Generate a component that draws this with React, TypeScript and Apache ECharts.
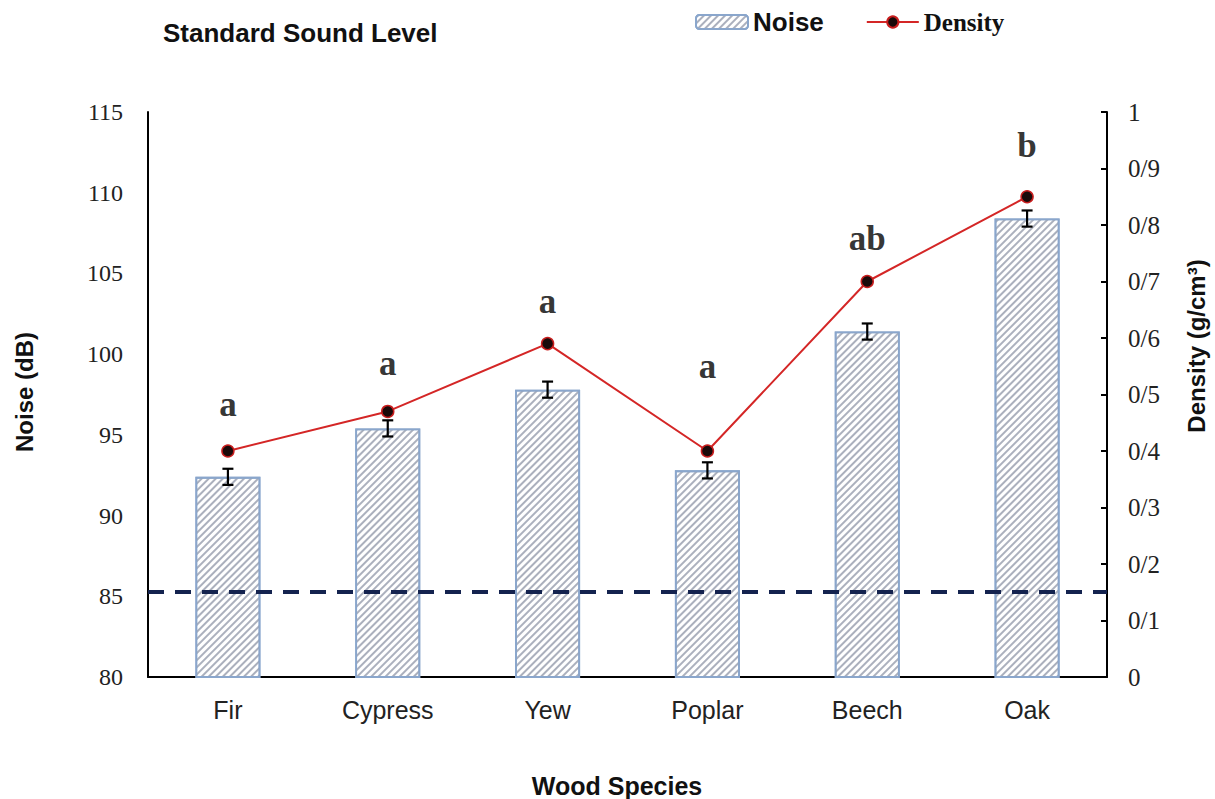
import React, { useEffect, useRef } from "react";
import * as echarts from "echarts";

// Wood species and measured values
const species = ["Fir", "Cypress", "Yew", "Poplar", "Beech", "Oak"];
const noise = [92.4, 95.4, 97.8, 92.8, 101.4, 108.4]; // dB
const noiseErr = [0.5, 0.5, 0.5, 0.5, 0.5, 0.5]; // dB
const density = [0.4, 0.47, 0.59, 0.4, 0.7, 0.85]; // g/cm3
// Significance groups and the density-axis height where each letter sits
const groupLetters = ["a", "a", "a", "a", "ab", "b"];
const letterY = [0.483, 0.554, 0.664, 0.549, 0.776, 0.94];
const standardLevel = 85.3; // dB

const noiseTicks = { min: 80, max: 115, interval: 5 };
const densityTicks = { min: 0, max: 1, interval: 0.1 };

const SANS = "'Liberation Sans', Arial, sans-serif";
const SERIF = "'Liberation Serif', 'Times New Roman', serif";

export default function App() {
  const ref = useRef<HTMLDivElement>(null);

  useEffect(() => {
    const chart = echarts.init(ref.current!, null, { renderer: "svg" });

    const hatch = {
      symbol: "rect",
      symbolSize: 1,
      color: "rgba(150,156,172,0.8)",
      dashArrayX: [1, 0],
      dashArrayY: [1.6, 2.8],
      rotation: -Math.PI / 4,
    };

    chart.setOption({
      animation: false,
      backgroundColor: "#ffffff",
      title: {
        text: "Standard Sound Level",
        left: 158,
        top: 15,
        textStyle: { fontFamily: SANS, fontSize: 26, fontWeight: "bold", color: "#111" },
      },
      legend: {
        left: 690,
        top: 4,
        itemWidth: 52,
        itemHeight: 14,
        itemGap: 42,
        data: ["Noise", "Density"],
        formatter: (name: string) => (name === "Noise" ? `{n|${name}}` : `{d|${name}}`),
        textStyle: {
          rich: {
            n: { fontFamily: SANS, fontSize: 26, fontWeight: "bold", color: "#111" },
            d: { fontFamily: SERIF, fontSize: 25, fontWeight: "bold", color: "#111" },
          },
        },
      },
      grid: { left: 148, right: 108, top: 112, bottom: 122 },
      xAxis: {
        type: "category",
        data: species,
        axisLine: { lineStyle: { color: "#000", width: 2 } },
        axisTick: { show: false },
        axisLabel: { fontFamily: SANS, fontSize: 25, color: "#222", margin: 20 },
      },
      yAxis: [
        {
          type: "value",
          ...noiseTicks,
          axisLine: { show: true, lineStyle: { color: "#000", width: 2 } },
          axisTick: { show: false },
          splitLine: { show: false },
          axisLabel: { fontFamily: SERIF, fontSize: 24, color: "#222", margin: 25 },
        },
        {
          type: "value",
          ...densityTicks,
          position: "right",
          axisLine: { show: true, lineStyle: { color: "#000", width: 2 } },
          axisTick: { show: true, inside: true, length: 6, lineStyle: { color: "#000", width: 2 } },
          splitLine: { show: false },
          axisLabel: {
            fontFamily: SERIF,
            fontSize: 25,
            color: "#222",
            margin: 21,
            formatter: (v: number) =>
              v === 0 ? "0" : v === 1 ? "1" : v.toFixed(1).replace(".", "/"),
          },
        },
      ],
      graphic: [
        {
          type: "text",
          x: 24,
          y: 392,
          rotation: Math.PI / 2,
          style: {
            text: "Noise (dB)",
            font: `bold 24px ${SANS}`,
            fill: "#111",
            align: "center",
            verticalAlign: "middle",
          },
        },
        {
          type: "text",
          x: 1196,
          y: 346,
          rotation: Math.PI / 2,
          style: {
            text: "Density (g/cm³)",
            font: `bold 24px ${SANS}`,
            fill: "#111",
            align: "center",
            verticalAlign: "middle",
          },
        },
        {
          type: "text",
          x: 617,
          y: 786,
          style: {
            text: "Wood Species",
            font: `bold 25px ${SANS}`,
            fill: "#111",
            align: "center",
            verticalAlign: "middle",
          },
        },
      ],
      series: [
        {
          name: "Noise",
          type: "bar",
          data: noise,
          barWidth: 65,
          itemStyle: {
            color: "#ffffff",
            borderColor: "#8aa6cc",
            borderWidth: 1.8,
            decal: hatch,
          },
          markLine: {
            silent: true,
            symbol: "none",
            label: { show: false },
            lineStyle: { color: "#14234f", width: 4, type: [16, 11] },
            data: [{ yAxis: standardLevel }],
          },
          z: 2,
        },
        {
          name: "NoiseError",
          type: "custom",
          data: noise.map((v, i) => [i, v, noiseErr[i]]),
          renderItem: (params: any, api: any) => {
            const x = api.value(0);
            const v = api.value(1);
            const e = api.value(2);
            const top = api.coord([x, v + e]);
            const bot = api.coord([x, v - e]);
            const cap = 5.5;
            const style = { stroke: "#000", lineWidth: 2.2 };
            return {
              type: "group",
              children: [
                { type: "line", shape: { x1: top[0], y1: top[1], x2: bot[0], y2: bot[1] }, style },
                { type: "line", shape: { x1: top[0] - cap, y1: top[1], x2: top[0] + cap, y2: top[1] }, style },
                { type: "line", shape: { x1: bot[0] - cap, y1: bot[1], x2: bot[0] + cap, y2: bot[1] }, style },
              ],
            };
          },
          z: 3,
        },
        {
          name: "Density",
          type: "line",
          yAxisIndex: 1,
          data: density,
          symbol: "circle",
          symbolSize: 12,
          lineStyle: { color: "#d42626", width: 2 },
          itemStyle: { color: "#1a0a0a", borderColor: "#c81e1e", borderWidth: 1.5 },
          z: 4,
        },
        {
          name: "Groups",
          type: "scatter",
          yAxisIndex: 1,
          data: letterY.map((y, i) => [i, y]),
          symbolSize: 0,
          silent: true,
          label: {
            show: true,
            position: "inside",
            formatter: (p: any) => groupLetters[p.dataIndex],
            fontFamily: SERIF,
            fontSize: 35,
            fontWeight: "bold",
            color: "#000",
          },
          z: 5,
        },
      ],
    });

    return () => chart.dispose();
  }, []);

  return (
    <div
      ref={ref}
      style={{ position: "absolute", left: 0, top: 0, width: 1215, height: 799 }}
    />
  );
}
